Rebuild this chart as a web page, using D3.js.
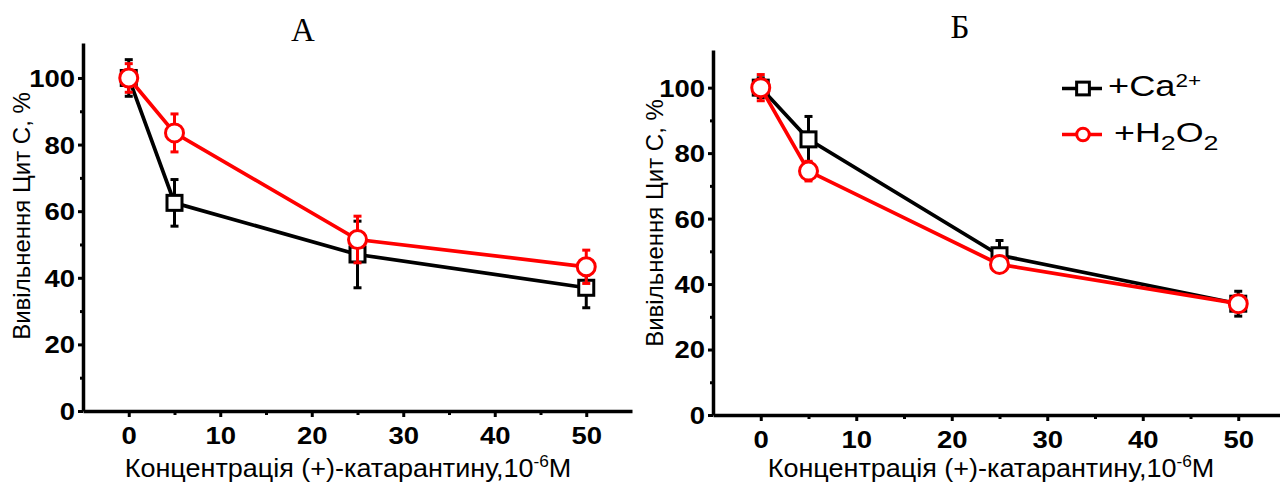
<!DOCTYPE html>
<html>
<head>
<meta charset="utf-8">
<script src="https://cdn.jsdelivr.net/npm/d3@7"></script>
<style>
  body { margin: 0; background: #fff; }
  text { font-family: "Liberation Sans", Arial, sans-serif; }
</style>
</head>
<body>
<div id="chart"></div>
<script>
var width = 1280;
var height = 484;

// concentration of (+)-catharanthine, 10^-6 M
var conc = [0, 5, 25, 50];

// panel A
var caA = [100, 62.5, 47, 37];
var caAErr = [5.5, 7, 10, 6];
var h2o2A = [100, 83.5, 51.5, 43.3];
var h2o2AErr = [4.3, 5.7, 7, 5];

// panel B
var caB = [100, 84.2, 48.8, 34];
var caBErr = [3, 7, 4.5, 3.8];
var h2o2B = [100, 74.5, 46, 34];
var h2o2BErr = [4, 3, 2, 2.5];

var xTicks = [0, 10, 20, 30, 40, 50];
var xMinor = [5, 15, 25, 35, 45];
var yTicks = [0, 20, 40, 60, 80, 100];
var yMinor = [10, 30, 50, 70, 90];

// the original figure is a bit stretched sideways
var tickStretch = 1.17;

var svg = d3.select('#chart').append('svg')
  .attr('width', width)
  .attr('height', height);

function drawPanel(p) {
  var x = d3.scaleLinear().domain([-5, 55]).range([p.left, p.right]);
  var y = d3.scaleLinear().domain([0, p.yMax]).range([p.bottom, p.top]);
  var g = svg.append('g');

  // minor ticks
  g.append('g')
    .attr('transform', 'translate(0,' + p.bottom + ')')
    .call(d3.axisBottom(x).tickValues(xMinor).tickSize(4).tickFormat(''))
    .call(function(a){ a.select('.domain').remove(); a.selectAll('line').attr('stroke-width', 3); });
  g.append('g')
    .attr('transform', 'translate(' + p.left + ',0)')
    .call(d3.axisLeft(y).tickValues(yMinor).tickSize(3).tickFormat(''))
    .call(function(a){ a.select('.domain').remove(); a.selectAll('line').attr('stroke-width', 3); });

  // major axes
  var xa = g.append('g')
    .attr('transform', 'translate(0,' + p.bottom + ')')
    .call(d3.axisBottom(x).tickValues(xTicks).tickSize(6).tickSizeOuter(0).tickPadding(10));
  var ya = g.append('g')
    .attr('transform', 'translate(' + p.left + ',0)')
    .call(d3.axisLeft(y).tickValues(yTicks).tickSize(5).tickSizeOuter(0).tickPadding(3));

  [xa, ya].forEach(function(a){
    a.select('.domain').attr('stroke-width', 3.5).attr('stroke', '#000');
    a.selectAll('line').attr('stroke-width', 3);
    a.selectAll('text')
      .attr('fill', '#000')
      .attr('transform', 'scale(' + tickStretch + ',1)')
      .style('font-size', '23.5px')
      .style('font-weight', 'bold');
  });
  ya.selectAll('text').attr('dy', '0.36em').attr('x', -8 / tickStretch);

  // axis titles
  var xl = g.append('text')
    .attr('transform', 'translate(' + p.xLabelX + ',477) scale(1.08,1)')
    .attr('text-anchor', 'middle')
    .style('font-size', '25px');
  xl.append('tspan').text('Концентрація (+)-катарантину,10');
  xl.append('tspan').attr('dy', -10).style('font-size', '16px').text('-6');
  xl.append('tspan').attr('dy', 10).text('М');

  g.append('text')
    .attr('transform', 'translate(' + p.yLabelX + ',' + p.yLabelY + ') rotate(-90)')
    .attr('text-anchor', 'middle')
    .attr('dy', '0.35em')
    .style('font-size', '24px')
    .text('Вивільнення Цит С, %');

  g.append('text')
    .attr('x', p.titleX)
    .attr('y', p.titleY)
    .attr('text-anchor', 'middle')
    .style('font-family', '"Liberation Serif", "Times New Roman", serif')
    .style('font-size', '33px')
    .text(p.title);

  var line = d3.line()
    .x(function(d){ return x(d[0]); })
    .y(function(d){ return y(d[1]); });

  p.series.forEach(function(s){
    var pts = conc.map(function(c, i){ return [c, s.values[i], s.err[i]]; });

    g.append('path')
      .datum(pts)
      .attr('d', line)
      .attr('fill', 'none')
      .attr('stroke', s.color)
      .attr('stroke-width', 3.7);

    var eb = g.append('g').selectAll('g').data(pts).enter().append('g')
      .attr('stroke', s.color).attr('stroke-width', 3);
    eb.append('line')
      .attr('x1', function(d){ return x(d[0]); })
      .attr('x2', function(d){ return x(d[0]); })
      .attr('y1', function(d){ return y(d[1] + d[2]); })
      .attr('y2', function(d){ return y(d[1] - d[2]); });
    eb.selectAll('.cap').data(function(d){
        return [[d[0], d[1] + d[2]], [d[0], d[1] - d[2]]];
      }).enter().append('line').classed('cap', true)
      .attr('x1', function(d){ return x(d[0]) - 4; })
      .attr('x2', function(d){ return x(d[0]) + 4; })
      .attr('y1', function(d){ return y(d[1]); })
      .attr('y2', function(d){ return y(d[1]); });

    drawMarker(g.append('g'), s.shape, s.color, pts.map(function(d){ return [x(d[0]), y(d[1])]; }), 1);
  });
}

function drawMarker(sel, shape, color, xy, k) {
  if (shape === 'square') {
    var h = 7.5 * k;
    sel.selectAll('rect').data(xy).enter().append('rect')
      .attr('x', function(d){ return d[0] - h; })
      .attr('y', function(d){ return d[1] - h; })
      .attr('width', 2 * h).attr('height', 2 * h)
      .attr('fill', '#fff').attr('stroke', color).attr('stroke-width', 3);
  } else {
    sel.selectAll('circle').data(xy).enter().append('circle')
      .attr('cx', function(d){ return d[0]; })
      .attr('cy', function(d){ return d[1]; })
      .attr('r', 9 * k)
      .attr('fill', '#fff').attr('stroke', color).attr('stroke-width', 3);
  }
}

drawPanel({
  left: 83, right: 632, top: 43, bottom: 411, yMax: 110.5,
  xLabelX: 348, yLabelX: 22, yLabelY: 216, titleX: 303, titleY: 41, title: 'А',
  series: [
    {values: caA, err: caAErr, color: '#000', shape: 'square'},
    {values: h2o2A, err: h2o2AErr, color: '#ff0000', shape: 'circle'}
  ]
});

drawPanel({
  left: 713, right: 1286, top: 50, bottom: 415, yMax: 111.5,
  xLabelX: 991, yLabelX: 655, yLabelY: 223, titleX: 960, titleY: 38, title: 'Б',
  series: [
    {values: caB, err: caBErr, color: '#000', shape: 'square'},
    {values: h2o2B, err: h2o2BErr, color: '#ff0000', shape: 'circle'}
  ]
});

// legend (panel B)
var legend = svg.append('g');
var legendItems = [
  {color: '#000', shape: 'square', y: 88.5},
  {color: '#ff0000', shape: 'circle', y: 134.5}
];
legendItems.forEach(function(d){
  legend.append('line')
    .attr('x1', 1062).attr('x2', 1102)
    .attr('y1', d.y).attr('y2', d.y)
    .attr('stroke', d.color).attr('stroke-width', 3.7);
  drawMarker(legend.append('g'), d.shape, d.color, [[1083, d.y]], d.shape === 'square' ? 0.85 : 0.7);
});

var t1 = legend.append('text')
  .attr('transform', 'translate(1108,95.5) scale(1.25,1)')
  .style('font-size', '29px');
t1.append('tspan').text('+Ca');
t1.append('tspan').attr('dy', -9).style('font-size', '18px').text('2+');

var t2 = legend.append('text')
  .attr('transform', 'translate(1114,141.5) scale(1.28,1)')
  .style('font-size', '28px');
t2.append('tspan').text('+H');
t2.append('tspan').attr('dy', 8).style('font-size', '21px').text('2');
t2.append('tspan').attr('dy', -8).text('O');
t2.append('tspan').attr('dy', 8).style('font-size', '21px').text('2');
</script>
</body>
</html>
